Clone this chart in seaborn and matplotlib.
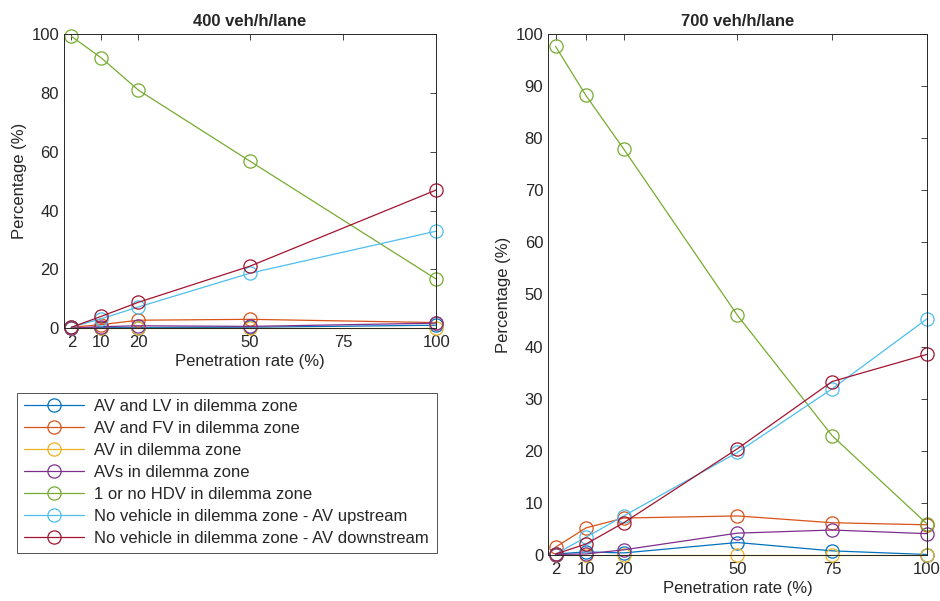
import matplotlib
matplotlib.use("Agg")
import matplotlib.pyplot as plt
import seaborn as sns
import pandas as pd

sns.set_theme(style="white")
plt.rcParams['font.family'] = ['Liberation Sans', 'DejaVu Sans']

labels = ["AV and LV in dilemma zone",
          "AV and FV in dilemma zone",
          "AV in dilemma zone",
          "AVs in dilemma zone",
          "1 or no HDV in dilemma zone",
          "No vehicle in dilemma zone - AV upstream",
          "No vehicle in dilemma zone - AV downstream"]
colors = ["#0072BD", "#D95319", "#EDB120", "#7E2F8E", "#77AC30", "#4DBEEE", "#A2142F"]

x_left = [2, 10, 20, 50, 100]
left_av_lv = [0.2, 0.2, 0.2, 0.3, 1.0]
left_av_fv = [0.3, 1.2, 2.7, 3.0, 1.9]
left_av = [0.0, 0.0, 0.0, 0.0, 0.0]
left_avs = [0.0, 0.5, 0.8, 0.6, 1.7]
left_hdv = [99.3, 92.0, 81.0, 56.8, 16.7]
left_up = [0.3, 3.2, 7.2, 18.7, 33.0]
left_down = [0.3, 4.0, 8.8, 21.1, 47.0]

x_right = [2, 10, 20, 50, 75, 100]
right_av_lv = [0.2, 0.6, 0.4, 2.4, 0.8, 0.1]
right_av_fv = [1.5, 5.2, 7.1, 7.5, 6.2, 5.8]
right_av = [0.0, 0.0, 0.0, 0.0, 0.0, 0.0]
right_avs = [0.1, 0.2, 1.0, 4.2, 4.8, 4.1]
right_hdv = [97.6, 88.2, 77.9, 46.0, 22.9, 6.0]
right_up = [0.2, 3.4, 7.5, 19.7, 31.9, 45.3]
right_down = [0.2, 2.1, 6.2, 20.4, 33.3, 38.5]

left_series = [left_av_lv, left_av_fv, left_av, left_avs, left_hdv, left_up, left_down]
right_series = [right_av_lv, right_av_fv, right_av, right_avs, right_hdv, right_up, right_down]

FS = 12
fig = plt.figure(figsize=(9.4, 6.01), dpi=100)
axL = fig.add_axes([0.068, 0.454, 0.396, 0.489])
axR = fig.add_axes([0.583, 0.0765, 0.403, 0.867])

def draw(ax, xs, series):
    for lab, col, ys in zip(labels, colors, series):
        df = pd.DataFrame({"x": xs, "y": ys})
        sns.lineplot(data=df, x="x", y="y", ax=ax, color=col, lw=0.9,
                     marker="o", markersize=9.5, markerfacecolor="none",
                     markeredgecolor=col, markeredgewidth=0.9, label=lab,
                     legend=False, clip_on=False)

draw(axL, x_left, left_series)
draw(axR, x_right, right_series)

axis_col = "#262626"
for ax, title, yt in [(axL, "400 veh/h/lane", range(0, 101, 20)),
                      (axR, "700 veh/h/lane", range(0, 101, 10))]:
    ax.set_xlim(0, 100)
    ax.set_ylim(0, 100)
    ax.set_xticks([2, 10, 20, 50, 75, 100])
    ax.set_yticks(list(yt))
    ax.set_title(title, fontsize=FS, fontweight="bold", pad=6)
    ax.set_xlabel("Penetration rate (%)", fontsize=FS, color=axis_col, labelpad=3)
    ax.set_ylabel("Percentage (%)", fontsize=FS, color=axis_col, labelpad=3)
    ax.tick_params(axis="x", pad=5)
    ax.tick_params(axis="y", pad=3.5)
    ax.tick_params(direction="in", length=4, width=0.6, top=True, right=True,
                   labelsize=FS, colors=axis_col)
    for s in ax.spines.values():
        s.set_visible(True)
        s.set_color(axis_col)
        s.set_linewidth(0.7)

handles, labs = axL.get_legend_handles_labels()
leg = fig.legend(handles, labs, loc="lower left",
                 bbox_to_anchor=(0.018, 0.08, 0.447, 0.268), mode="expand",
                 fontsize=FS, frameon=True, fancybox=False, handlelength=3.6,
                 borderpad=0.4, labelspacing=0.42, handletextpad=0.6,
                 borderaxespad=0)
leg.get_frame().set_edgecolor(axis_col)
leg.get_frame().set_linewidth(0.7)

fig.savefig("out.png", dpi=100)
